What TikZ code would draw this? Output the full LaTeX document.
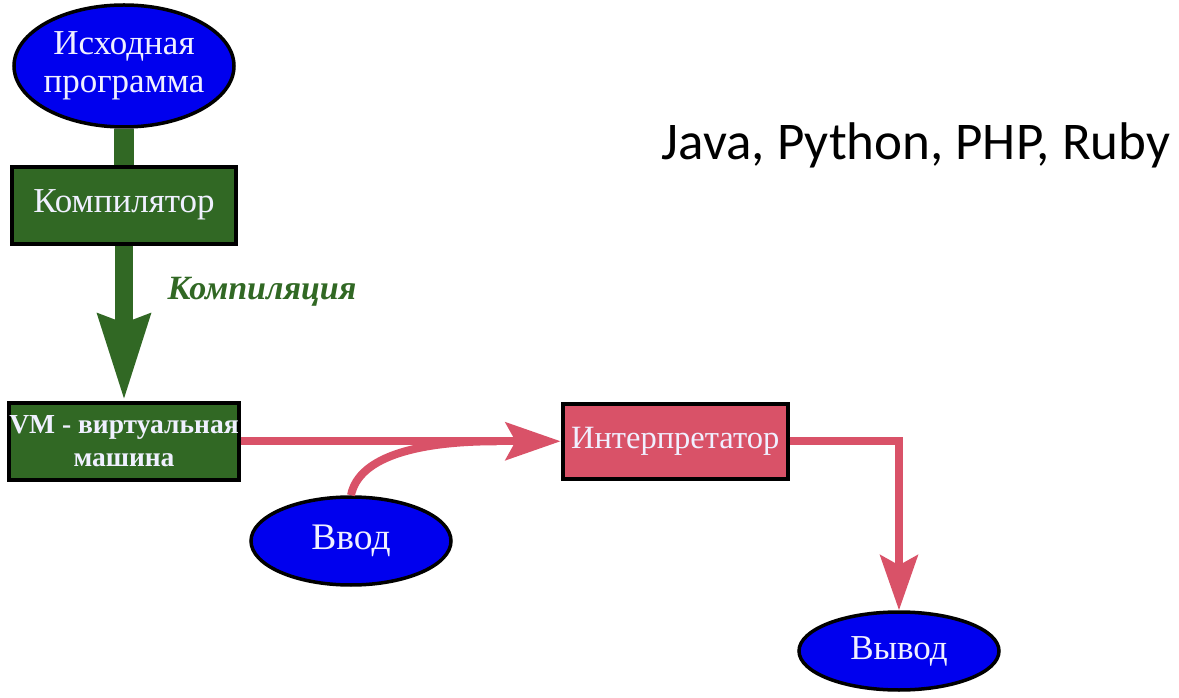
\documentclass[tikz,border=0pt]{standalone}
\usepackage{fontspec}
\setmainfont{Liberation Serif}
\newfontfamily\langfont{Carlito}
\usetikzlibrary{arrows.meta,shapes.geometric,positioning}

\definecolor{fblue}{RGB}{0,0,238}
\definecolor{vmgreen}{RGB}{49,104,36}
\definecolor{ipink}{RGB}{217,82,104}
\definecolor{ltext}{RGB}{240,240,255}

\begin{document}
\begin{tikzpicture}[x=0.4pt, y=-0.4pt,
    io/.style={ellipse, draw=black, line width=1.4pt, fill=fblue, text=ltext,
    inner sep=0pt, align=center, font=\fontsize{14}{15}\selectfont},
    block/.style={rectangle, draw=black, line width=1.6pt, inner sep=0pt, text=ltext,
    align=center, font=\fontsize{14}{15}\selectfont},
    flow/.style={ipink, line width=3.2pt, -{Stealth[length=22pt, width=15pt, inset=4pt]}}]
    \useasboundingbox (0,0) rectangle (1179,698);

    \node (src) [io, minimum width=88pt, minimum height=48.8pt, inner xsep=-3pt] at (124,66)
    {Исходная\\программа};
    \node (compiler) [block, fill=vmgreen, minimum width=89.6pt, minimum height=30.8pt, below=14.4pt of src]
    {Компилятор};
    \node (vm) [block, fill=vmgreen, minimum width=91.2pt, minimum height=30.8pt, below=62pt of compiler,
    font=\fontsize{11}{13}\selectfont\bfseries] {VM - виртуальная\\машина};
    \node (interp) [block, fill=ipink, minimum width=90pt, minimum height=30pt, right=128pt of vm,
    font=\fontsize{13}{15}\selectfont] {Интерпретатор};

    \node (vvod) [io, minimum width=80pt, minimum height=35.2pt, font=\fontsize{15}{16}\selectfont] at (351,541) {Ввод};
    \node (vyvod) [io, minimum width=80pt, minimum height=31.2pt] at (899,651) {Вывод};

    \node (langs) [font=\langfont\fontsize{21.2}{23}\selectfont] at (916,145) {Java, Python, PHP, Ruby};

    % compilation stage
    \draw [vmgreen, line width=8pt] (src) -- (compiler);
    \draw [vmgreen, line width=7pt, -{Stealth[length=34pt, width=20pt, inset=3pt]}] (compiler) -- (vm);
    \node (stage) [text=vmgreen, font=\fontsize{13.6}{15}\selectfont\bfseries\itshape] at (262,292) {Компиляция};

    % interpretation stage
    \path (vm.east) -- (interp.west) coordinate[pos=0.8] (merge);
    \draw [flow] (vm) -- (interp);
    \draw [ipink, line width=3.2pt] (vvod.north) .. controls +(8,-40) and +(-75,0) .. (merge);
    \draw [flow] (interp.east) -| (vyvod.north);
\end{tikzpicture}
\end{document}
